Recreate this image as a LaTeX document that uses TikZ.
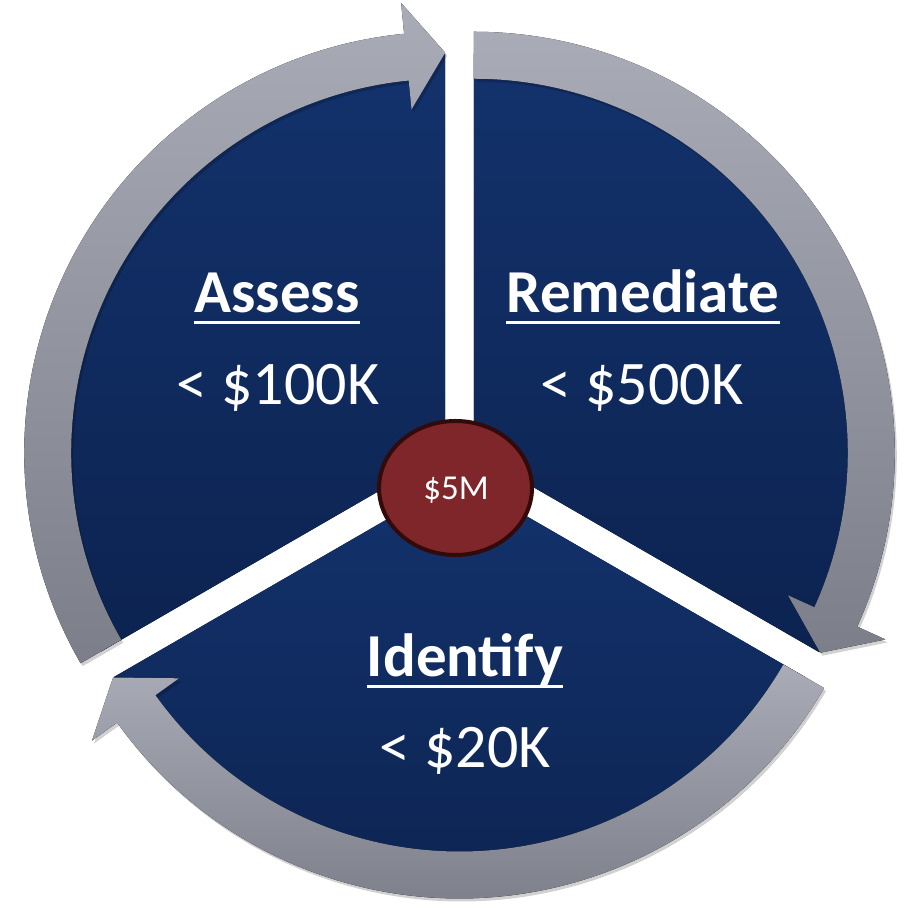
\documentclass[tikz,border=0pt]{standalone}
\usepackage{fontspec}
\setmainfont{Carlito}
\definecolor{bluetop}{HTML}{13326C}
\definecolor{bluebot}{HTML}{0C2350}
\definecolor{greytop}{HTML}{A9ACB7}
\definecolor{greybot}{HTML}{7C7F8A}
\definecolor{redfill}{HTML}{7E2629}
\definecolor{redline}{HTML}{320A0A}
\tikzset{
  slicefill/.style={top color=bluetop, bottom color=bluebot, draw=none},
  bandfill/.style={top color=greytop, bottom color=greybot, draw=none},
  bandshadow/.style={fill=black, opacity=0.18, draw=none},
  titletext/.style={text=white, inner sep=0pt, anchor=base, font=\fontsize{61}{71}\selectfont\bfseries},
  amounttext/.style={text=white, inner sep=0pt, anchor=base, font=\fontsize{62}{72}\selectfont},
  ulrule/.style={draw=white, line width=3pt},
  hub/.style={ellipse, fill=redfill, draw=redline, line width=4pt, minimum width=153pt, minimum height=134pt, inner sep=0pt},
}
\usetikzlibrary{shapes.geometric}
\begin{document}
\begin{tikzpicture}[x=1pt,y=1pt]
\useasboundingbox (0,0) rectangle (906,908);
% three exploded slices: centre x, centre y, head angle
\foreach \cx/\cy/\a in {445.2/455.25/90, 473.8/455.25/-30, 459.5/430.5/210}{
  \pgfmathsetmacro{\t}{\a+120}
  \pgfmathsetmacro{\h}{\a+5.6}
  \begin{scope}[shift={(\cx,\cy)}]
    \fill[slicefill] (0,0) -- (\t:399) arc[start angle=\t, end angle=\a, radius=399] -- cycle;
    \fill[bandshadow, shift={(2,-3)}] (\t:374) arc[start angle=\t, end angle=\h, radius=374]
      -- (\h:345) -- (\a:400) -- (\h:452) -- (\h:421)
      arc[start angle=\h, end angle=\t, radius=421] -- cycle;
    \fill[bandfill] (\t:374) arc[start angle=\t, end angle=\h, radius=374]
      -- (\h:345) -- (\a:400) -- (\h:452) -- (\h:421)
      arc[start angle=\h, end angle=\t, radius=421] -- cycle;
  \end{scope}
}
% labels
\node[titletext] (assess) at (277,595) {Assess};
\draw[ulrule] ([yshift=-10pt]assess.base west) -- ([yshift=-10pt]assess.base east);
\node[amounttext] (assessamt) at (278,503) {< \$100K};
\node[titletext] (remed) at (643,595) {Remediate};
\draw[ulrule] ([yshift=-10pt]remed.base west) -- ([yshift=-10pt]remed.base east);
\node[amounttext] (remedamt) at (642,503) {< \$500K};
\node[titletext] (ident) at (465,231) {Identify};
\draw[ulrule] ([yshift=-10pt]ident.base west) -- ([yshift=-10pt]ident.base east);
\node[amounttext] (identamt) at (465,140) {< \$20K};
% hub
\node[hub] (hubnode) at (455.5,420) {};
\node[text=white, inner sep=0pt, anchor=base, font=\fontsize{35}{41}\selectfont] (hubtext) at (456,408) {\$5M};
\end{tikzpicture}
\end{document}
